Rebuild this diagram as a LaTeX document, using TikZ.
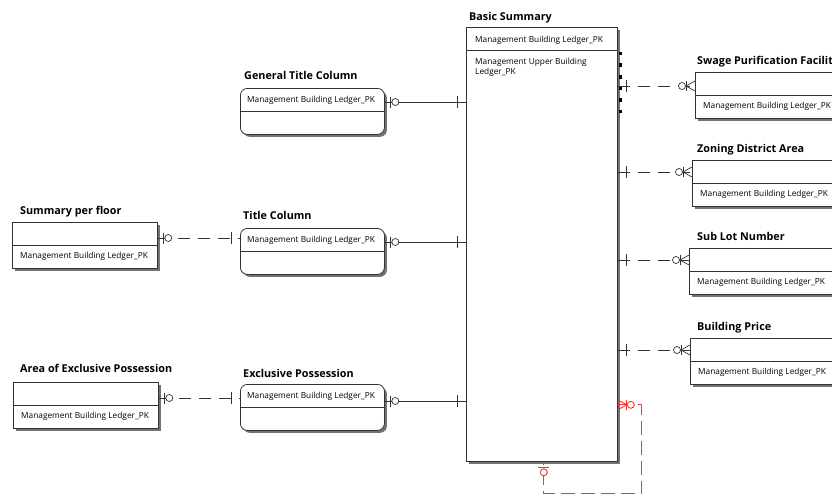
\documentclass[tikz,border=0pt]{standalone}
\usepackage{fontspec}
\setmainfont{Open Sans}
\usetikzlibrary{positioning,shadows}

\definecolor{selfred}{RGB}{250,50,50}

\tikzset{
  entity/.style={draw=black!80, line width=0.8pt, fill=white, anchor=north west,
    minimum height=46pt, inner sep=0pt,
    drop shadow={shadow xshift=2.5pt, shadow yshift=-2.5pt, fill=black!55, opacity=1}},
  roundentity/.style={entity, rounded corners=7pt},
  etitle/.style={inner sep=0pt, text depth=0pt, font=\bfseries\fontsize{10.8}{12}\selectfont},
  attr/.style={anchor=west, inner sep=0pt, align=left, font=\fontsize{8.3}{9.5}\selectfont},
  rel/.style={draw=black!80, line width=0.7pt},
  optrel/.style={rel, dash pattern=on 12pt off 8pt},
  selfrel/.style={color=selfred, line width=1.1pt, dash pattern=on 14pt off 6pt},
  pics/zeroone/.style={code={
    \draw (6,-5.5) -- (6,5.5);
    \draw[fill=white] (10.5,0) circle (3.5pt);
  }},
  pics/onebar/.style={code={\draw (9,-6) -- (9,6);}},
  pics/zeromany/.style={code={
    \draw (0,-5) -- (9,0) -- (0,5);
    \draw (9,-5) -- (9,5);
    \draw[fill=white] (13,0) circle (3.5pt);
  }},
}

\begin{document}
\begin{tikzpicture}[x=1pt, y=-1pt]
\useasboundingbox (0,0) rectangle (832,495);
\clip (0,0) rectangle (832,495);

% entities
\node[entity, minimum width=151pt, minimum height=434pt] (bs) at (466,27) {};
\node[roundentity, minimum width=144pt] (gtc) at (240,88) {};
\node[roundentity, minimum width=144pt] (tc) at (240,228) {};
\node[roundentity, minimum width=144pt] (ep) at (240,384) {};
\node[entity, minimum width=145pt] (spf) at (12,222) {};
\node[entity, minimum width=145pt] (aep) at (13,382) {};
\node[entity, minimum width=150pt] (swage) at (695,72) {};
\node[entity, minimum width=150pt] (zoning) at (692,160) {};
\node[entity, minimum width=150pt] (sublot) at (689,248) {};
\node[entity, minimum width=150pt] (bp) at (690,338) {};

\foreach \e in {bs,gtc,tc,ep,spf,aep,swage,zoning,sublot,bp}
  \draw[black!80, line width=0.8pt] ([yshift=-23pt]\e.north west) -- ([yshift=-23pt]\e.north east);

% marks on the right side of Basic Summary
\draw[black, line width=3pt, dash pattern=on 3.5pt off 8pt]
  ([xshift=2.5pt, yshift=-25pt]bs.north east) -- ([xshift=2.5pt, yshift=-92pt]bs.north east);

% titles
\node[etitle, above right=6pt and 3pt of bs.north west] (bs-t) {Basic Summary};
\node[etitle, above right=8pt and 4pt of gtc.north west] (gtc-t) {General Title Column};
\node[etitle, above right=8pt and 3pt of tc.north west] (tc-t) {Title Column};
\node[etitle, above right=6pt and 3pt of ep.north west] (ep-t) {Exclusive Possession};
\node[etitle, above right=7pt and 8pt of spf.north west] (spf-t) {Summary per floor};
\node[etitle, above right=9pt and 7pt of aep.north west] (aep-t) {Area of Exclusive Possession};
\node[etitle, above right=7pt and 2pt of swage.north west] (swage-t) {Swage Purification Facility};
\node[etitle, above right=7pt and 5pt of zoning.north west] (zoning-t) {Zoning District Area};
\node[etitle, above right=7pt and 8pt of sublot.north west] (sublot-t) {Sub Lot Number};
\node[etitle, above right=7pt and 7pt of bp.north west] (bp-t) {Building Price};

% attributes
\node[attr] (bs-pk) at ([xshift=9pt, yshift=-13pt]bs.north west) {Management Building Ledger\_PK};
\node[attr, anchor=north west] (bs-up) at ([xshift=9pt, yshift=-31pt]bs.north west)
  {Management Upper Building\\Ledger\_PK};
\foreach \e in {gtc,tc,ep}
  \node[attr] (\e-pk) at ([xshift=7pt, yshift=-12pt]\e.north west) {Management Building Ledger\_PK};
\foreach \e in {spf,aep,swage,zoning,sublot,bp}
  \node[attr] (\e-fk) at ([xshift=8pt, yshift=-34pt]\e.north west) {Management Building Ledger\_PK};

% relations into Basic Summary
\foreach \e/\dy in {gtc/14, tc/14, ep/17}{
  \coordinate (\e-r) at ([yshift=-\dy pt]\e.north east);
  \draw[rel] (\e-r) -- (\e-r -| bs.west);
  \pic[rel] at (\e-r) {zeroone};
  \pic[rel, xscale=-1] at (\e-r -| bs.west) {onebar};
}

% optional relations on the left
\foreach \e/\f in {spf/tc, aep/ep}{
  \coordinate (\e-r) at ([yshift=-16pt]\e.north east);
  \draw[optrel] (\e-r) -- (\e-r -| \f.west);
  \pic[rel] at (\e-r) {zeroone};
  \pic[rel, xscale=-1] at (\e-r -| \f.west) {onebar};
}

% optional relations on the right
\foreach \e/\dy in {swage/14, zoning/12, sublot/12, bp/12}{
  \coordinate (\e-l) at ([yshift=-\dy pt]\e.north west);
  \draw[optrel] (\e-l -| bs.east) -- (\e-l);
  \pic[rel] at (\e-l -| bs.east) {onebar};
  \pic[rel, xscale=-1] at (\e-l) {zeromany};
}

% self relation
\coordinate (bs-self) at ([yshift=57pt]bs.south east);
\coordinate (bs-foot) at ([xshift=-74pt]bs.south east);
\coordinate (bs-loop) at ([xshift=24pt, yshift=-32pt]bs.south east);
\draw[selfrel] (bs-self) -| (bs-loop) -| (bs-foot);
\pic[color=selfred, line width=0.9pt] at (bs-self) {zeromany};
\pic[color=selfred, line width=0.9pt, rotate=-90] at (bs-foot) {zeroone};
\end{tikzpicture}
\end{document}
